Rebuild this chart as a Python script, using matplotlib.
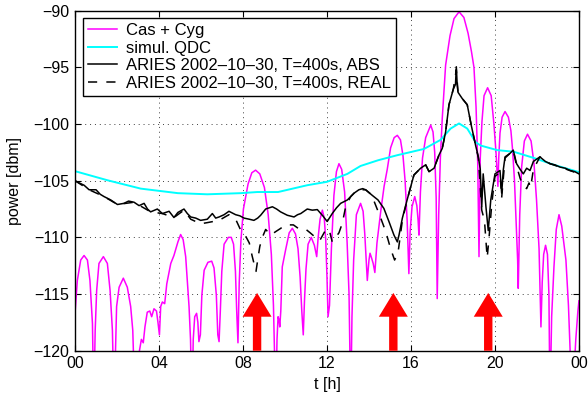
import matplotlib
matplotlib.use('Agg')
import matplotlib.pyplot as plt

plt.rcParams['font.family'] = ['Liberation Sans', 'DejaVu Sans']
plt.rcParams['font.size'] = 11.5

# Cas + Cyg fringe pattern (nulls below -120 are clipped by the axes)
cas_t = [0.00, 0.11, 0.27, 0.43, 0.59, 0.71, 0.83, 0.89,
         0.96, 1.03, 1.14, 1.35, 1.54, 1.67, 1.78, 1.86,
         1.93, 1.98, 2.10, 2.30, 2.49, 2.65, 2.75, 2.86,
         3.05, 3.16, 3.25, 3.33, 3.44, 3.56, 3.65, 3.76, 3.88, 3.95, 4.02, 4.08,
         4.16, 4.27, 4.37, 4.56, 4.71, 4.79, 4.90, 5.03, 5.15, 5.27, 5.43, 5.50,
         5.57, 5.63, 5.70, 5.79, 5.85, 5.90,
         5.97, 6.04, 6.15, 6.33, 6.51, 6.62, 6.73, 6.80, 6.86,
         6.92, 6.99, 7.10, 7.30, 7.44, 7.55, 7.64, 7.70, 7.76,
         7.82, 7.90, 8.02, 8.24, 8.42, 8.60, 8.80, 9.02, 9.20, 9.35, 9.45, 9.56,
         9.62, 9.67, 9.72, 9.75, 9.80, 9.87, 10.03, 10.20, 10.35, 10.50, 10.62,
         10.72, 10.80, 10.87,
         10.93, 11.00, 11.10, 11.25, 11.40, 11.51,
         11.58, 11.67, 11.78, 11.87, 11.94, 12.00, 12.05,
         12.12, 12.21, 12.33, 12.45, 12.57, 12.70, 12.84, 12.96, 13.05, 13.13,
         13.19, 13.27, 13.40, 13.60, 13.72, 13.80, 13.87, 13.92,
         14.00, 14.05, 14.12, 14.20, 14.28,
         14.38, 14.56, 14.72, 14.87, 15.03, 15.20, 15.35, 15.50, 15.62, 15.72,
         15.82, 15.90,
         15.96, 16.05, 16.18, 16.28, 16.34, 16.38,
         16.45, 16.55, 16.70, 16.94, 17.05, 17.13, 17.20, 17.25,
         17.32, 17.40, 17.49, 17.65, 17.86, 18.05, 18.29, 18.52, 18.72, 18.88,
         19.00, 19.10, 19.18, 19.24,
         19.30, 19.38, 19.48, 19.65, 19.82, 19.95, 20.05, 20.11, 20.14,
         20.18, 20.24, 20.34, 20.48, 20.64, 20.76, 20.84, 20.93, 21.00, 21.08,
         21.11,
         21.18, 21.27, 21.40, 21.55, 21.72, 21.86, 21.98, 22.10, 22.19,
         22.25, 22.32, 22.41, 22.50, 22.57, 22.62,
         22.70, 22.81, 22.92, 23.05, 23.18, 23.30, 23.38, 23.50, 23.68,
         23.85, 23.95, 24.00]
cas_p = [-116.7, -113.8, -112.0, -111.6, -112.0, -113.8, -117.6, -125,
         -118.2, -114.7, -112.3, -111.7, -112.3, -114.7, -118.2, -125,
         -120.0, -116.1, -114.4, -113.6, -114.4, -116.1, -118.2, -125,
         -120.2, -119.0, -119.3, -117.9, -116.6, -116.5, -117.0, -116.3, -116.5,
         -117.5, -118.6, -116.1, -115.7, -115.85, -114.1, -112.3, -111.6, -111.1,
         -110.4, -109.75, -110.2, -111.7, -116.1, -119.0,
         -125, -119.0, -117.0, -116.7, -117.5, -119.2,
         -118.6, -115.1, -112.9, -112.2, -112.1, -112.7, -115.1, -118.6, -119.2,
         -116.5, -113.0, -110.6, -110.0, -110.0, -110.6, -113.0, -116.5, -119.3,
         -114.0, -110.3, -107.5, -105.3, -104.3, -104.07, -104.4, -105.6, -108.0,
         -111.5, -116.0, -125,
         -119.0, -117.0, -117.3, -117.9, -116.5, -112.6, -111.1, -109.6, -109.2,
         -109.7, -111.0, -113.5, -116.5, -118.6,
         -115.5, -112.8, -110.6, -110.0, -110.7, -111.7,
         -110.0, -108.4, -107.6, -108.3, -110.2, -113.5, -117.0,
         -116.0, -111.0, -106.3, -104.2, -103.5, -104.0, -106.0, -110.5, -115.0,
         -125,
         -117.0, -112.0, -108.0, -107.0, -107.7, -109.7, -112.0, -113.8,
         -112.0, -111.4, -111.8, -112.3, -113.1,
         -110.5, -107.7, -105.5, -104.0, -102.1, -101.2, -101.0, -101.4, -102.8,
         -105.0, -108.6, -113.2,
         -109.5, -107.3, -106.4, -107.2, -108.5, -109.8,
         -106.0, -103.0, -101.2, -100.1, -100.7, -102.5, -106.5, -115.4,
         -108.0, -103.0, -99.5, -94.8, -92.2, -90.7, -90.1, -90.6, -92.0, -93.6,
         -95.0, -98.5, -103.5, -111.7,
         -103.0, -99.8, -97.5, -96.8, -97.5, -100.0, -102.5, -104.5, -105.5,
         -103.0, -100.8, -99.4, -98.9, -99.4, -100.6, -102.3, -105.0, -108.2,
         -112.0, -114.5,
         -108.0, -103.8, -101.5, -100.9, -101.5, -103.5, -106.7, -111.0, -117.9,
         -114.0, -111.5, -110.7, -111.5, -115.0, -125,
         -117.0, -112.6, -109.3, -108.0, -109.0, -110.8, -112.0, -116.0, -125,
         -119.0, -116.5, -115.6]

# simulated QDC
qdc_t = [0, 1.54, 3.13, 4.9, 6.3, 7.89, 8.68, 9.67, 11.06, 12.0, 12.97, 13.6,
         14.43, 15.35, 16.62, 17.41, 17.89, 18.29, 18.68, 19.08, 19.32, 20.1,
         20.9, 21.86, 22.81, 23.92, 24]
qdc_p = [-104.16, -104.96, -105.7, -106.1, -106.2, -106.1, -106.0, -106.0,
         -105.4, -105.1, -104.4, -103.7, -103.2, -102.75, -102.2, -101.4,
         -100.4, -99.95, -100.4, -101.6, -101.9, -102.3, -102.45, -103.0,
         -103.6, -104.2, -104.25]

# ARIES measurement, ABS
abs_t = [0.00, 0.20, 0.43, 0.67, 1.00, 1.20, 1.38, 1.70, 2.02, 2.33, 2.55, 2.81,
         3.05, 3.29, 3.45, 3.60, 3.92, 4.16, 4.48, 4.71, 4.90, 5.19, 5.35, 5.51,
         5.75, 5.98, 6.30, 6.54, 6.70, 6.86, 7.10, 7.33, 7.65, 7.85, 8.05, 8.30,
         8.52, 8.70, 8.84, 9.08, 9.40, 9.60, 9.79, 10.11, 10.43, 10.60, 10.75,
         11.06, 11.30, 11.54, 11.80, 12.01, 12.25, 12.45, 12.65, 12.97, 13.29,
         13.52, 13.70, 13.84, 14.16, 14.43, 14.71, 14.95, 15.19, 15.35, 15.43,
         15.59, 15.83, 16.14, 16.46, 16.70, 16.86, 17.10, 17.33, 17.49, 17.65,
         17.81, 18.02, 18.12, 18.16, 18.20, 18.24, 18.44, 18.68, 18.87, 19.08,
         19.21, 19.30, 19.37, 19.44, 19.57, 19.68, 19.80, 20.00, 20.24, 20.32,
         20.40, 20.48, 20.71, 20.87, 21.03, 21.20, 21.35, 21.51, 21.67, 21.83,
         22.14, 22.40, 22.62, 22.85, 23.10, 23.35, 23.57, 23.80, 24.00]
abs_p = [-105.0, -105.2, -105.4, -105.8, -105.8, -106.2, -106.4, -106.7, -107.1,
         -107.0, -106.8, -106.9, -107.2, -107.0, -107.5, -107.75, -107.5, -107.9,
         -107.7, -108.25, -107.8, -107.5, -107.9, -108.2, -108.3, -108.5, -108.4,
         -107.9, -108.3, -108.2, -108.0, -107.7, -108.0, -108.1, -108.3, -108.4,
         -108.5, -108.3, -108.05, -107.5, -107.3, -107.5, -107.75, -108.05, -108.2,
         -108.0, -107.9, -107.5, -107.6, -107.55, -108.1, -108.6, -107.9, -107.4,
         -107.0, -106.7, -106.1, -105.8, -105.7, -105.8, -106.3, -106.7, -107.45,
         -108.6, -109.8, -110.4, -109.8, -108.3, -106.6, -104.5, -103.9, -103.6,
         -104.2, -103.9, -102.75, -102.15, -100.7, -98.3, -96.9, -96.5, -94.95,
         -96.5, -97.2, -97.75, -98.3, -100.1, -101.9, -102.9, -104.0, -107.3,
         -104.4, -107.3, -109.4, -106.7, -104.4, -104.1, -106.1, -104.0, -102.9,
         -102.6, -102.3, -103.5, -104.0, -104.4, -103.9, -104.1, -103.3, -102.9,
         -103.3, -103.5, -103.6, -103.8, -103.9, -104.1, -104.2, -104.4]

# ARIES measurement, REAL
real_t = [0.00, 0.67, 1.38, 2.02, 2.81, 3.60, 4.16, 4.71, 5.19, 5.51, 5.98, 6.30,
          6.86, 7.33, 7.65, 7.90, 8.10, 8.30, 8.43, 8.55, 8.62, 8.70, 8.80, 8.92,
          9.08, 9.32, 9.55, 9.80, 10.00, 10.40, 10.70, 11.00, 11.20, 11.45, 11.65,
          11.95, 12.10, 12.25, 12.57, 12.73, 12.90, 13.13, 13.29, 13.52, 13.84,
          14.16, 14.24, 14.56, 14.80, 15.03, 15.22, 15.38, 15.59, 15.83, 16.14,
          16.46, 16.70, 16.86, 17.10, 17.33, 17.49, 17.65, 17.81, 18.02, 18.16,
          18.24, 18.44, 18.68, 18.87, 19.08, 19.21, 19.37, 19.50, 19.63, 19.72,
          19.85, 20.00, 20.24, 20.32, 20.48, 20.71, 20.87, 21.03, 21.20, 21.35,
          21.51, 21.62, 21.70, 21.83, 22.14, 22.62, 23.10, 23.57, 24.00]
real_p = [-105.0, -105.8, -106.4, -107.1, -106.9, -107.75, -107.9, -108.25,
          -107.6, -108.4, -108.8, -108.7, -108.5, -108.0, -108.4, -109.4, -109.8,
          -110.5, -111.6, -112.5, -113.0, -112.0, -110.8, -110.0, -109.3, -109.8,
          -109.5, -109.2, -108.9, -108.9, -109.3, -109.3, -109.6, -110.0, -110.3,
          -109.3, -109.3, -110.4, -109.6, -108.75, -107.2, -106.4, -106.1, -105.8,
          -105.8, -106.3, -106.8, -108.3, -109.5, -111.0, -112.0, -111.4, -108.5,
          -106.6, -104.5, -103.9, -103.6, -104.2, -103.9, -102.75, -102.15, -100.7,
          -98.3, -96.9, -95.2, -97.2, -97.75, -98.3, -100.1, -101.9, -103.0,
          -107.6, -108.5, -111.8, -110.0, -107.0, -104.6, -104.3, -106.5, -103.0,
          -102.6, -102.3, -103.7, -104.8, -105.5, -105.7, -105.2, -105.6, -104.0,
          -102.9, -103.5, -103.8, -104.1, -104.4]

# red arrows marking the events
arrow_t = [8.67, 15.16, 19.68]

fig = plt.figure(figsize=(5.88, 4.01), dpi=100)
ax = fig.add_axes([0.1276, 0.1254, 0.857, 0.848])

ax.plot(cas_t, cas_p, color='#ff00ff', lw=1.1, label='Cas + Cyg')
ax.plot(qdc_t, qdc_p, color='#00ffff', lw=1.4, label='simul. QDC')
ax.plot(abs_t, abs_p, color='black', lw=1.1, label='ARIES 2002\u201310\u201330, T=400s, ABS')
ax.plot(real_t, real_p, color='black', lw=1.1, linestyle=(0, (6, 6)),
        label='ARIES 2002\u201310\u201330, T=400s, REAL')

for t in arrow_t:
    ax.arrow(t, -120, 0, 5.1, width=0.4, head_width=1.38, head_length=2.1,
             length_includes_head=True, color='#ff0000', lw=0, zorder=5)

ax.set_xlim(0, 24)
ax.set_ylim(-120, -90)
ax.set_xticks([0, 4, 8, 12, 16, 20, 24])
ax.set_xticklabels(['00', '04', '08', '12', '16', '20', '00'])
ax.set_yticks([-120, -115, -110, -105, -100, -95, -90])
ax.tick_params(direction='in', top=True, right=True, length=4, width=0.8, pad=4)
ax.grid(True, color='0.25', linestyle=(0, (1, 4)), lw=0.7)
for s in ax.spines.values():
    s.set_linewidth(1.0)

ax.set_xlabel('t [h]', labelpad=4)
ax.set_ylabel('power [dbm]', labelpad=8)

leg = ax.legend(loc='upper left', fancybox=False, framealpha=1, edgecolor='black',
                fontsize=12, borderaxespad=0.45, borderpad=0.3, labelspacing=0.15,
                handlelength=1.75, handletextpad=0.55)
leg.get_frame().set_linewidth(1.0)

fig.savefig('out.png', dpi=100)
